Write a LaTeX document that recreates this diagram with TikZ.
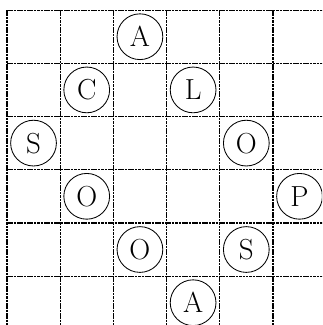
\documentclass[tikz,border=0pt]{standalone}
\begin{document}
\begin{tikzpicture}[
  gridline/.style={line width=0.65pt, dash pattern=on 1.4pt off 0.4pt},
  letter/.style={circle, draw, line width=0.45pt, minimum size=0.86cm, inner sep=0pt, font=\fontsize{15.5}{18}\selectfont}
]
\useasboundingbox (0,0) rectangle (6.053,-6.109);
\clip (0,0) rectangle (6.053,-6.109);
\foreach \i in {0,...,6} {
  \draw[gridline] (0.13+\i,-0.19) -- (0.13+\i,-6.4);
  \draw[gridline] (0.13,-0.19-\i) -- (6.4,-0.19-\i);
}
% cell centres: x = 0.63 + col, y = -0.69 - row
\node[letter] (a1) at (0.63+2,-0.69-0) {A};
\node[letter] (c1) at (0.63+1,-0.69-1) {C};
\node[letter] (l1) at (0.63+3,-0.69-1) {L};
\node[letter] (s1) at (0.63+0,-0.69-2) {S};
\node[letter] (o1) at (0.63+4,-0.69-2) {O};
\node[letter] (o2) at (0.63+1,-0.69-3) {O};
\node[letter] (p1) at (0.63+5,-0.69-3) {P};
\node[letter] (o3) at (0.63+2,-0.69-4) {O};
\node[letter] (s2) at (0.63+4,-0.69-4) {S};
\node[letter] (a2) at (0.63+3,-0.69-5) {A};
\end{tikzpicture}
\end{document}
